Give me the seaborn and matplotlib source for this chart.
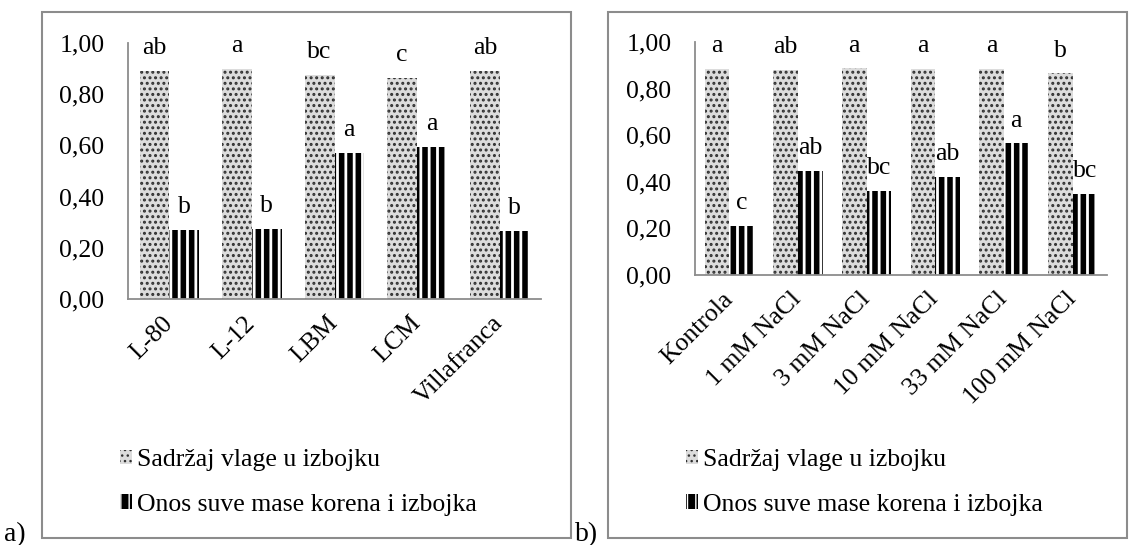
import matplotlib
matplotlib.use("Agg")
import matplotlib.pyplot as plt
import matplotlib.patches as mpatches
from matplotlib.ticker import FuncFormatter
import seaborn as sns
import pandas as pd

# ---------------- data ----------------
series_names = ["Sadržaj vlage u izbojku", "Onos suve mase korena i izbojka"]

cats_a = ["L-80", "L-12", "LBM", "LCM", "Villafranca"]
moist_a = [0.890, 0.898, 0.875, 0.865, 0.890]
ratio_a = [0.270, 0.273, 0.570, 0.594, 0.267]
let_moist_a = ["ab", "a", "bc", "c", "ab"]
let_ratio_a = ["b", "b", "a", "a", "b"]

cats_b = ["Kontrola", "1 mM NaCl", "3 mM NaCl", "10 mM NaCl", "33 mM NaCl", "100 mM NaCl"]
moist_b = [0.884, 0.880, 0.887, 0.884, 0.884, 0.866]
ratio_b = [0.210, 0.446, 0.360, 0.422, 0.565, 0.348]
let_moist_b = ["a", "ab", "a", "a", "a", "b"]
let_ratio_b = ["c", "ab", "bc", "ab", "a", "bc"]

yticks = [0.0, 0.2, 0.4, 0.6, 0.8, 1.0]

# ---------------- style ----------------
sns.set_theme(style="white")
plt.rcParams["font.family"] = ["Liberation Serif", "DejaVu Serif"]
FS = 18.5
W, H = 1129, 545
fig = plt.figure(figsize=(W / 100, H / 100), dpi=100)
fig.patch.set_facecolor("white")

SPINE = "#8c8c8c"
DOT_FACE, DOT_HATCH, DOT_LW = "#dcdcdc", "#303030", 1.4
STR_FACE, STR_HATCH, STR_LW = "black", "white", 2.0


def style_patch(p, kind):
    if kind == 0:
        p.set_facecolor(DOT_FACE)
        p.set_edgecolor(DOT_HATCH)
        p.set_hatch("...")
        lw = DOT_LW
    else:
        p.set_facecolor(STR_FACE)
        p.set_edgecolor(STR_HATCH)
        p.set_hatch("||")
        lw = STR_LW
    p.set_linewidth(0)
    if hasattr(p, "set_hatch_linewidth"):
        p.set_hatch_linewidth(lw)


def panel(rect, cats, moist, ratio, lm, lr, legend_xy):
    ax = fig.add_axes(rect)
    df = pd.DataFrame({
        "cat": cats * 2,
        "series": [series_names[0]] * len(cats) + [series_names[1]] * len(cats),
        "value": list(moist) + list(ratio),
    })
    sns.barplot(data=df, x="cat", y="value", hue="series", order=cats,
                hue_order=series_names, width=0.72, errorbar=None,
                ax=ax, legend=False, saturation=1)
    for k, cont in enumerate(ax.containers):
        labels = lm if k == 0 else lr
        for p, lab in zip(cont.patches, labels):
            style_patch(p, k)
            ax.annotate(lab, (p.get_x() + p.get_width() / 2, p.get_height()),
                        xytext=(0, 12), textcoords="offset points",
                        ha="center", va="baseline", fontsize=FS, color="black")
    ax.set_ylim(0, 1.0)
    ax.set_xlim(-0.5, len(cats) - 0.5)
    ax.set_yticks(yticks)
    ax.yaxis.set_major_formatter(FuncFormatter(lambda v, _: f"{v:.2f}".replace(".", ",")))
    ax.set_xlabel("")
    ax.set_ylabel("")
    ax.tick_params(axis="y", length=0, pad=17, labelsize=FS, colors="black")
    ax.tick_params(axis="x", length=0, pad=15, labelsize=FS, colors="black")
    for t in ax.get_xticklabels():
        t.set_rotation(45)
        t.set_ha("right")
        t.set_va("center")
        t.set_rotation_mode("anchor")
    for s in ["top", "right"]:
        ax.spines[s].set_visible(False)
    for s in ["left", "bottom"]:
        ax.spines[s].set_color(SPINE)
        ax.spines[s].set_linewidth(1.3)
    ax.set_facecolor("none")
    ax.grid(False)

    h0 = mpatches.Patch(label=series_names[0])
    h1 = mpatches.Patch(label=series_names[1])
    style_patch(h0, 0)
    style_patch(h1, 1)
    leg = ax.legend(handles=[h0, h1], loc="upper left",
                    bbox_to_anchor=legend_xy, bbox_transform=fig.transFigure,
                    frameon=False, fontsize=FS, handlelength=0.45, handleheight=0.5,
                    handletextpad=0.2, labelspacing=0.89, borderpad=0, borderaxespad=0)
    for t in leg.get_texts():
        t.set_color("black")
    return ax


def fx(px):
    return px / W


def fy(py):
    return 1 - py / H


panel([fx(128), fy(299), fx(541 - 128), (299 - 43) / H],
      cats_a, moist_a, ratio_a, let_moist_a, let_ratio_a, (fx(120), fy(449)))
panel([fx(695), fy(275), fx(1107 - 695), (275 - 42) / H],
      cats_b, moist_b, ratio_b, let_moist_b, let_ratio_b, (fx(686), fy(449)))

# outer frames
for x0, x1 in [(42, 571), (608, 1127)]:
    fig.patches.append(mpatches.Rectangle((fx(x0), fy(538)), fx(x1 - x0), (538 - 12) / H,
                                          transform=fig.transFigure, fill=False,
                                          edgecolor=SPINE, linewidth=1.5))

fig.text(fx(4), fy(541), "a)", fontsize=20, ha="left", va="baseline", color="black")
fig.text(fx(575), fy(541), "b)", fontsize=20, ha="left", va="baseline", color="black")

fig.savefig("out.png", dpi=100, facecolor="white")
